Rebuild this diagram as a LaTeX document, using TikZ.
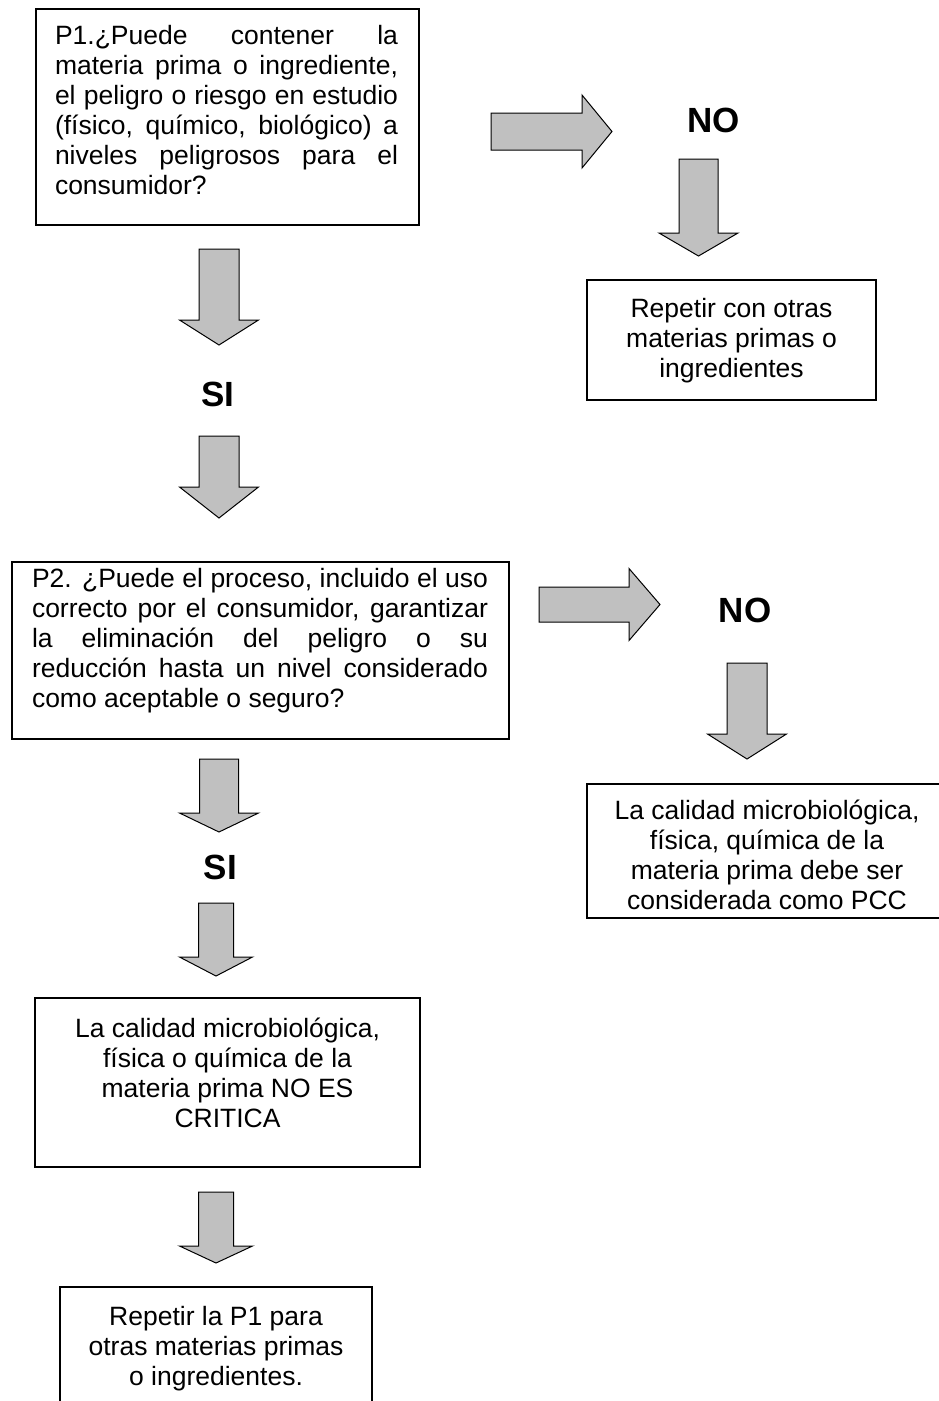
\documentclass[tikz,border=0pt]{standalone}
\usepackage{fontspec}
\setmainfont{Liberation Sans}
\hyphenpenalty=10000
\exhyphenpenalty=10000
\hbadness=10000
\definecolor{arrowgray}{HTML}{C0C0C0}
\begin{document}
\begin{tikzpicture}[x=1pt,y=-1pt,
  box/.style={draw, line width=1.3pt, inner sep=0pt, rectangle},
  txt/.style={inner sep=0pt, font=\fontsize{26.5}{30}\selectfont},
  lbl/.style={inner sep=0pt, font=\fontsize{35}{38}\selectfont\bfseries},
  blk/.style={draw, line width=1pt, fill=arrowgray, line join=miter},
  pics/blockarrow/.style args={#1/#2/#3/#4}{code={
    \draw[blk] (-#1,0) -- (#1,0) -- (#1,#3) -- (#2,#3) -- (0,#4) -- (-#2,#3) -- (-#1,#3) -- cycle;}}
]
\useasboundingbox (0,0) rectangle (939,1401);
\clip (0,0) rectangle (939,1401);
\fill[white] (0,0) rectangle (939,1401);

% boxes
\node[box, minimum width=383, minimum height=216] (p1) at (227.5,117) {};
\node[txt, text width=343, align=justify, anchor=north] (p1t) at (226.5,25)
 {P1.¿Puede contener la\linebreak materia prima o ingrediente,\linebreak el peligro o riesgo en estudio\linebreak (físico, químico, biológico) a\linebreak niveles peligrosos para el\linebreak consumidor?};

\node[box, minimum width=289, minimum height=120] (rep1) at (731.5,340) {};
\node[txt, align=center, anchor=north] (rep1t) at (731.5,298)
 {Repetir con otras\\materias primas o\\ingredientes};

\node[box, minimum width=497, minimum height=177] (p2) at (260.5,650.5) {};
\node[txt, text width=456, align=justify, anchor=north] (p2t) at (260,568)
 {P2. ¿Puede el proceso, incluido el uso\linebreak correcto por el consumidor, garantizar\linebreak la eliminación del peligro o su\linebreak reducción hasta un nivel considerado\linebreak como aceptable o seguro?};

\node[box, minimum width=363, minimum height=134] (pcc) at (768.5,851) {};
\node[txt, align=center, anchor=north] (pcct) at (767,800)
 {La calidad microbiológica,\\física, química de la\\materia prima debe ser\\considerada como PCC};

\node[box, minimum width=385, minimum height=169] (crit) at (227.5,1082.5) {};
\node[txt, align=center, anchor=north] (critt) at (227.5,1018)
 {La calidad microbiológica,\\física o química de la\\materia prima NO ES\\CRITICA};

\node[box, minimum width=312, minimum height=133] (rep2) at (216,1353.5) {};
\node[txt, align=center, anchor=north] (rep2t) at (216,1306)
 {Repetir la P1 para\\otras materias primas\\o ingredientes.};

% labels
\node[lbl] (no1) at (713.5,120) {NO};
\node[lbl] (no2) at (745,610) {NO};
\node[lbl] (si1) at (218,394.5) {SI};
\node[lbl] (si2) at (220.5,867) {SI};

% block arrows
\coordinate (a1) at (219,249);
\coordinate (a2) at (219,436);
\coordinate (a3) at (219,759);
\coordinate (a4) at (216,903);
\coordinate (a5) at (216,1192);
\coordinate (d1) at (698.5,159);
\coordinate (d2) at (747,663);
\coordinate (r1) at (491,131.5);
\coordinate (r2) at (539,604.5);
\pic at (a1) {blockarrow={20/39.5/71/96}};
\pic at (a2) {blockarrow={20/39.5/51/82}};
\pic at (a3) {blockarrow={19.5/39.5/54/73}};
\pic at (a4) {blockarrow={17.5/36.5/54/73}};
\pic at (a5) {blockarrow={17.5/36.5/54/71}};
\pic at (d1) {blockarrow={19.5/39.5/74/97}};
\pic at (d2) {blockarrow={20/39.5/71/96}};
\pic[rotate=90] at (r1) {blockarrow={18.5/36.5/91/121}};
\pic[rotate=90] at (r2) {blockarrow={17.5/36/90/121}};
\end{tikzpicture}
\end{document}
